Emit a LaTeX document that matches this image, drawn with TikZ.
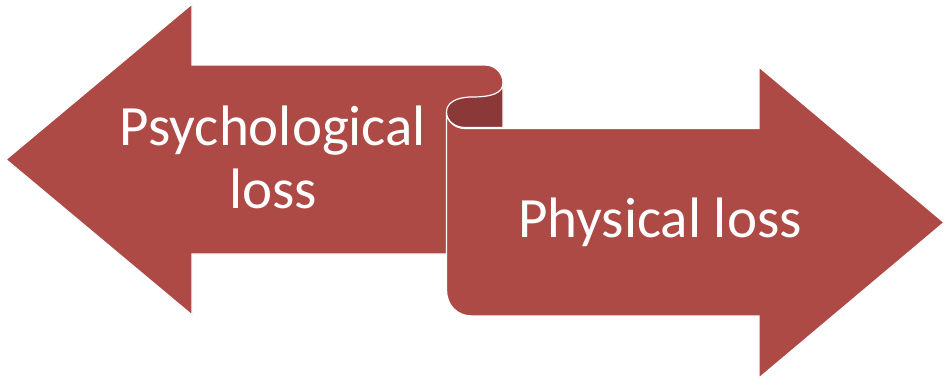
\documentclass[tikz,border=0pt]{standalone}
\usepackage{fontspec}
\setmainfont{Carlito}
\definecolor{ribbon}{RGB}{174,74,70}
\definecolor{ribbondark}{RGB}{138,57,56}
\begin{document}
\begin{tikzpicture}[x=1pt,y=-1pt,
  arrowshape/.style={fill=ribbon,draw=white,line width=1.2pt,line join=miter},
  curlshape/.style={fill=ribbondark,draw=white,line width=1.2pt},
  label/.style={text=white,inner sep=0pt,font=\fontsize{57}{63}\selectfont,align=center}]
\useasboundingbox (0,0) rectangle (946,380);
% left arrow
\path[arrowshape] (6,159.5) -- (192,4) -- (192,65) -- (485,65)
  .. controls (495,65) and (503,73) .. (503,83) -- (503,254) -- (192,254)
  -- (192,315) -- cycle;
% right arrow
\path[arrowshape] (446.5,112) -- (446.5,290)
  .. controls (446.5,305) and (457,316) .. (472,316) -- (759,316) -- (759,378)
  -- (944,222.5) -- (759,67) -- (759,128.5) -- (465,128.5)
  .. controls (455,128.5) and (446.5,121) .. (446.5,112) -- cycle;
% back of the curl
\path[curlshape] (503,83) .. controls (503,93) and (492,97) .. (472,97)
  .. controls (456,97) and (446.5,103) .. (446.5,112)
  .. controls (446.5,121) and (455,127.5) .. (465,127.5) -- (503,127.5) -- cycle;
% labels
\node[label,anchor=base] (psy) at (273,208) {Psychological\\loss};
\node[label,anchor=base] (phy) at (660,237) {Physical loss};
\end{tikzpicture}
\end{document}
